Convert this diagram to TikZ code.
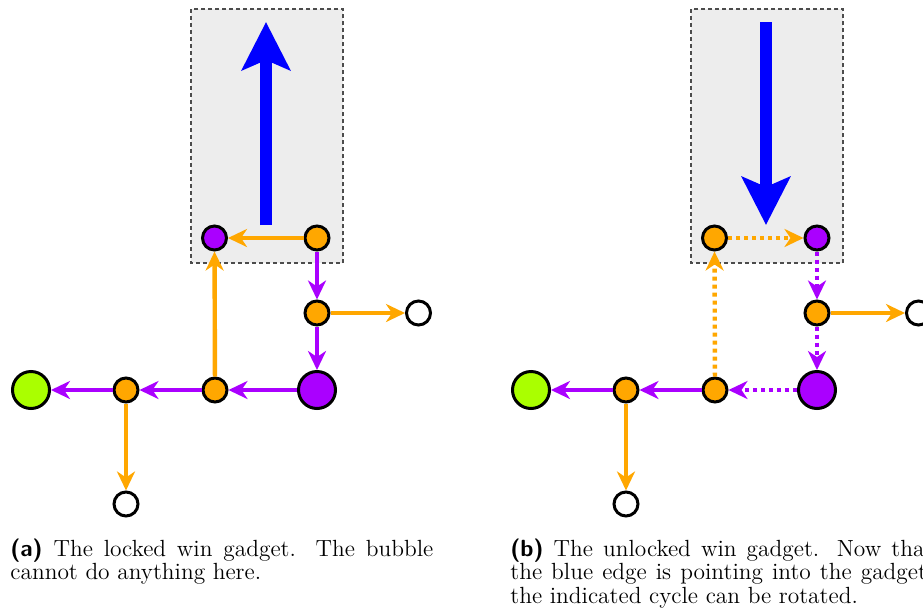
\documentclass[tikz,border=0pt]{standalone}
\usepackage{tikz}
\usetikzlibrary{arrows.meta}

\definecolor{bubblepurple}{RGB}{170,0,255}
\definecolor{wingreen}{RGB}{170,255,0}
\definecolor{cellorange}{RGB}{255,167,0}

\begin{document}
\begin{tikzpicture} [x = 0.5pt, y = -0.5pt,
		vtx/.style = {circle, draw, line width = 1.5pt, minimum size = 12pt, inner sep = 0},
		bigvtx/.style = {vtx, minimum size = 18.5pt},
		edge/.style = {line width = 2.2pt, -{Stealth[length = 9.5pt, width = 9pt, inset = 3pt]}},
		dots/.style = {dash pattern = on 2pt off 2pt},
		gadget/.style = {fill = black!7, draw = black!70, line width = 0.6pt, dash pattern = on 2pt off 1.5pt},
		blueedge/.style = {blue, line width = 6pt, -{Stealth[length = 24pt, width = 24pt, inset = 5pt]}},
		caption/.style = {anchor = base west, inner sep = 0, text width = 211.5pt, align = justify, font = \fontsize{11.7}{11.9}\selectfont}]
		\useasboundingbox (0,0) rectangle (923,612);

		\draw [gadget] (191,9) rectangle (343,263);
		\coordinate (a-tail) at (266,225);
		\coordinate (a-tip) at (266,22);
		\draw [blueedge] (a-tail) -- (a-tip);
		\node [vtx, fill = bubblepurple] (a1) at (214.5,238) {};
		\node [vtx, fill = cellorange] (a2) at (317,238) {};
		\node [vtx, fill = cellorange] (a3) at (317,313) {};
		\node [vtx, fill = white] (a4) at (418.5,313) {};
		\node [bigvtx, fill = bubblepurple] (a5) at (317,390) {};
		\node [vtx, fill = cellorange] (a6) at (215,390) {};
		\node [vtx, fill = cellorange] (a7) at (126,390) {};
		\node [bigvtx, fill = wingreen] (a8) at (31,390) {};
		\node [vtx, fill = white] (a9) at (126,504) {};
		\draw [edge, cellorange] (a2) -- (a1);
		\draw [edge, bubblepurple] (a2) -- (a3);
		\draw [edge, cellorange] (a3) -- (a4);
		\draw [edge, bubblepurple] (a3) -- (a5);
		\draw [edge, bubblepurple] (a5) -- (a6);
		\draw [edge, bubblepurple] (a6) -- (a7);
		\draw [edge, bubblepurple] (a7) -- (a8);
		\draw [edge, cellorange] (a7) -- (a9);
		\draw [edge, cellorange] (a6) -- (a1);
		\node [caption] (capa) at (10,556) {\textsf{\textbf{(a)}} The locked win gadget. The bubble cannot do anything here.};

		\draw [gadget] (691,9) rectangle (843,263);
		\coordinate (b-tail) at (766,22);
		\coordinate (b-tip) at (766,225);
		\draw [blueedge] (b-tail) -- (b-tip);
		\node [vtx, fill = cellorange] (b1) at (714.5,238) {};
		\node [vtx, fill = bubblepurple] (b2) at (817,238) {};
		\node [vtx, fill = cellorange] (b3) at (817,313) {};
		\node [vtx, fill = white] (b4) at (918.5,313) {};
		\node [bigvtx, fill = bubblepurple] (b5) at (817,390) {};
		\node [vtx, fill = cellorange] (b6) at (715,390) {};
		\node [vtx, fill = cellorange] (b7) at (626,390) {};
		\node [bigvtx, fill = wingreen] (b8) at (531,390) {};
		\node [vtx, fill = white] (b9) at (626,504) {};
		\draw [edge, dots, cellorange] (b1) -- (b2);
		\draw [edge, dots, bubblepurple] (b2) -- (b3);
		\draw [edge, cellorange] (b3) -- (b4);
		\draw [edge, dots, bubblepurple] (b3) -- (b5);
		\draw [edge, dots, bubblepurple] (b5) -- (b6);
		\draw [edge, bubblepurple] (b6) -- (b7);
		\draw [edge, bubblepurple] (b7) -- (b8);
		\draw [edge, cellorange] (b7) -- (b9);
		\draw [edge, dots, cellorange] (b6) -- (b1);
		\node [caption] (capb) at (510,556) {\textsf{\textbf{(b)}} The unlocked win gadget. Now that the blue edge is pointing into the gadget, the indicated cycle can be rotated.};
	\end{tikzpicture}
\end{document}
